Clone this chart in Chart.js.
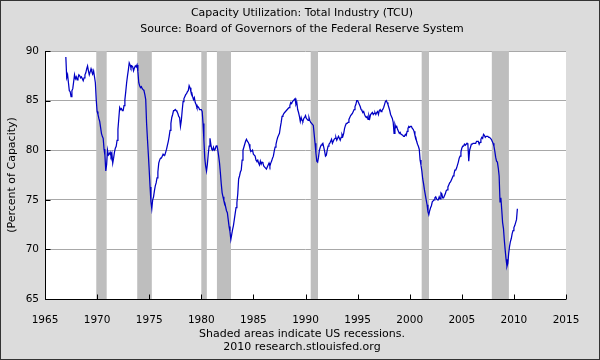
<!DOCTYPE html>
<html>
<head>
<meta charset="utf-8">
<script src="https://cdn.jsdelivr.net/npm/chart.js@4.4.1/dist/chart.umd.min.js"></script>
<style>
html,body{margin:0;padding:0;background:#dcdcdc;}
#wrap{width:600px;height:360px;}
canvas{display:block;}
</style>
</head>
<body>
<div id="wrap"><canvas id="c" width="600" height="360"></canvas></div>
<script>
// ---- Data (monthly, Jan 1967 onward) ----
const startYear = 1967;
const tcu1960s = [
  89.4, 87.3, 87.6, 86.8, 86.0, 85.9, 85.4, 86.0, 86.2, 86.9, 87.6, 87.2,
  87.4, 87.1, 87.3, 87.6, 87.5, 87.3, 87.4, 87.2, 87.0, 87.3, 87.6, 87.8,
  88.2, 88.5, 88.0, 87.6, 87.9, 88.2, 87.9, 87.7, 88.0, 87.4, 86.8, 85.1
];
const tcu1970s = [
  83.9, 83.6, 83.2, 82.9, 82.3, 81.7, 81.4, 81.2, 80.1, 79.5, 77.9, 78.6,
  80.0, 79.5, 79.6, 79.8, 79.4, 79.7, 78.7, 79.2, 79.8, 80.2, 80.4, 81.0,
  82.1, 83.2, 84.3, 84.1, 84.2, 84.0, 84.0, 84.5, 85.1, 85.9, 86.8, 87.5,
  88.1, 88.8, 88.6, 88.3, 88.5, 88.4, 88.0, 88.3, 88.5, 88.4, 88.6, 87.9,
  86.8, 86.5, 86.3, 86.4, 86.2, 86.1, 86.0, 85.6, 85.1, 82.7, 81.1, 79.6,
  78.0, 76.3, 74.8, 74.1, 75.0, 75.3, 75.9, 76.4, 76.7, 77.2, 77.8, 78.7,
  79.0, 79.2, 79.2, 79.4, 79.6, 79.5, 79.5, 79.8, 80.1, 80.5, 80.9, 81.4,
  82.0, 82.7, 83.3, 83.6, 84.0, 84.0, 84.1, 84.0, 83.9, 83.7, 83.4, 83.3,
  82.4, 83.0, 84.0, 84.9, 85.2, 85.4, 85.6, 85.7, 85.9, 86.0, 86.5, 86.3,
  85.9, 85.8, 85.4, 85.1, 85.3, 84.8, 84.6, 84.3, 84.4, 84.3, 84.1, 84.1
];
const tcu1980s = [
  84.1, 83.9, 82.7, 81.0, 79.2, 78.4, 77.9, 78.6, 79.6, 80.4, 81.2, 80.6,
  80.1, 80.0, 80.3, 80.0, 80.1, 80.4, 80.5, 80.0, 79.4, 78.7, 77.7, 76.6,
  75.7, 75.3, 74.9, 74.7, 74.3, 73.9, 73.7, 73.0, 72.3, 71.8, 71.0, 71.5,
  72.0, 72.4, 73.0, 73.6, 74.2, 74.7, 75.6, 77.1, 77.4, 77.8, 78.0, 79.0,
  80.0, 80.3, 80.6, 80.9, 81.1, 80.9, 80.8, 80.6, 80.2, 79.9, 79.9, 80.0,
  79.6, 79.5, 79.4, 79.0, 78.9, 79.0, 78.7, 78.5, 78.9, 78.6, 78.8, 78.7,
  78.4, 78.3, 78.2, 78.1, 78.3, 78.5, 78.7, 78.4, 78.7, 78.9, 79.2, 79.4,
  79.9, 80.3, 80.6, 81.0, 81.3, 81.5, 81.7, 82.3, 82.8, 83.4, 83.5, 83.7,
  83.8, 83.9, 84.0, 84.1, 84.2, 84.3, 84.5, 84.8, 84.7, 84.9, 85.0, 85.1,
  85.2, 84.6, 84.8, 84.1, 83.8, 83.4, 82.9, 83.3, 83.0, 82.9, 83.2, 83.3
];
const tcu1990s = [
  83.5, 83.2, 83.1, 83.0, 83.3, 83.0, 82.8, 82.7, 82.6, 82.5, 81.6, 80.7,
  79.7, 78.9, 78.8, 79.3, 80.0, 80.3, 80.5, 80.6, 80.7, 80.3, 79.9, 79.4,
  79.5, 80.0, 80.4, 80.6, 80.7, 80.9, 81.1, 80.7, 80.9, 81.1, 81.2, 81.3,
  81.0, 81.2, 81.4, 81.2, 81.0, 81.3, 81.6, 81.4, 81.7, 82.2, 82.5, 82.7,
  82.7, 82.8, 83.1, 83.3, 83.5, 83.6, 83.7, 83.9, 84.1, 84.4, 84.6, 85.0,
  85.0, 84.8, 84.6, 84.4, 84.1, 84.0, 83.8, 83.9, 83.6, 83.4, 83.3, 83.4,
  83.1, 83.5, 83.2, 83.6, 83.7, 83.8, 83.6, 83.7, 83.8, 83.6, 83.8, 83.9,
  83.6, 84.0, 84.1, 83.9, 84.0, 84.1, 84.3, 84.6, 84.9, 85.0, 84.8, 84.6,
  84.3, 84.0, 83.6, 83.4, 83.2, 82.8, 81.7, 82.6, 82.3, 82.4, 82.1, 81.9,
  81.7, 81.8, 81.6, 81.6, 81.5, 81.4, 81.4, 81.6, 81.5, 81.9, 82.2, 82.4
];
const tcu2000s = [
  82.3, 82.4, 82.4, 82.2, 82.1, 81.9, 81.5, 81.3, 80.9, 80.6, 80.4, 80.1,
  79.0, 78.5, 77.9, 77.1, 76.6, 76.0, 75.5, 75.0, 74.5, 73.8, 73.5, 73.9,
  74.2, 74.4, 74.8, 74.9, 75.0, 75.2, 75.3, 75.1, 75.0, 75.0, 75.3, 75.1,
  75.7, 75.6, 75.2, 75.2, 75.4, 75.6, 75.9, 76.0, 76.3, 76.5, 76.7, 76.8,
  77.0, 77.2, 77.4, 77.6, 78.0, 78.0, 78.2, 78.5, 78.8, 79.2, 79.4, 79.8,
  80.2, 80.4, 80.4, 80.6, 80.5, 80.6, 80.7, 80.6, 78.9, 80.0, 80.3, 80.6,
  80.6, 80.7, 80.7, 80.7, 80.7, 80.9, 80.9, 80.9, 80.6, 80.8, 81.1, 81.3,
  81.2, 81.6, 81.5, 81.3, 81.4, 81.4, 81.4, 81.3, 81.3, 81.2, 81.1, 80.9,
  80.7, 80.4, 79.9, 79.3, 78.9, 78.8, 78.2, 77.4, 74.8, 75.2, 74.0, 72.7,
  72.1, 70.9, 69.9, 69.0, 68.3, 68.6, 69.6, 70.3, 70.8, 71.1, 71.6, 71.9
];
const tcu2010s = [72.2, 72.4, 72.7, 73.0, 74.1];

// Recession periods (decimal years)
const recStart = [1969.92, 1973.85, 1980.0, 1981.5, 1990.5, 2001.15, 2007.88];
const recEnd   = [1970.92, 1975.25, 1980.53, 1982.85, 1991.2, 2001.85, 2009.52];

// Axis ticks
const xTicks = [1965, 1970, 1975, 1980, 1985, 1990, 1995, 2000, 2005, 2010, 2015];
const yTicks = [65, 70, 75, 80, 85, 90];

const titleLines = ['Capacity Utilization: Total Industry (TCU)', 'Source: Board of Governors of the Federal Reserve System'];
const footerLines = ['Shaded areas indicate US recessions.', '2010 research.stlouisfed.org'];
const yTitle = '(Percent of Capacity)';

// ---- Build ----
const tcu = [].concat(tcu1960s, tcu1970s, tcu1980s, tcu1990s, tcu2000s, tcu2010s);
const points = tcu.map((v, i) => ({ x: startYear + i / 12, y: v }));

const FONT = '"DejaVu Sans", Verdana, sans-serif';

const decor = {
  id: 'decor',
  beforeDraw(chart) {
    const { ctx, chartArea: a } = chart;
    ctx.save();
    ctx.fillStyle = '#dcdcdc';
    ctx.fillRect(0, 0, chart.width, chart.height);
    ctx.fillStyle = '#ffffff';
    ctx.fillRect(a.left, a.top, a.right - a.left, a.bottom - a.top);
    ctx.restore();
  },
  beforeDatasetsDraw(chart) {
    const { ctx, chartArea: a, scales: { x } } = chart;
    ctx.save();
    ctx.fillStyle = '#bebebe';
    recStart.forEach((s, i) => {
      const x0 = x.getPixelForValue(s), x1 = x.getPixelForValue(recEnd[i]);
      ctx.fillRect(x0, a.top, x1 - x0, a.bottom - a.top);
    });
    ctx.restore();
  },
  afterDatasetsDraw(chart) {
    const { ctx, chartArea: a, scales: { x, y } } = chart;
    ctx.save();
    ctx.strokeStyle = '#000';
    ctx.lineWidth = 1;
    ctx.beginPath();
    const L = Math.round(a.left) + 0.5, B = Math.round(a.bottom) + 0.5;
    ctx.moveTo(L, Math.round(a.top));
    ctx.lineTo(L, B);
    ctx.lineTo(Math.round(a.right), B);
    xTicks.forEach(t => {
      const px = Math.round(x.getPixelForValue(t)) + 0.5;
      ctx.moveTo(px, B); ctx.lineTo(px, B - 5);
    });
    yTicks.forEach(t => {
      const py = Math.round(y.getPixelForValue(t)) + 0.5;
      ctx.moveTo(L, py); ctx.lineTo(L + 5, py);
    });
    ctx.stroke();
    ctx.restore();
  },
  afterDraw(chart) {
    const { ctx } = chart;
    ctx.save();
    ctx.fillStyle = '#000';
    ctx.font = '11px ' + FONT;
    ctx.textAlign = 'center';
    ctx.textBaseline = 'middle';
    ctx.fillText(titleLines[0], 302, 13);
    ctx.fillText(titleLines[1], 302, 29);
    ctx.fillText(footerLines[0], 302, 334);
    ctx.fillText(footerLines[1], 302, 347);
    ctx.translate(12.5, 175);
    ctx.rotate(-Math.PI / 2);
    ctx.fillText(yTitle, 0, 0);
    ctx.restore();
    ctx.save();
    ctx.strokeStyle = '#333';
    ctx.lineWidth = 1;
    ctx.strokeRect(0.5, 0.5, chart.width - 1, chart.height - 1);
    ctx.restore();
  }
};

new Chart(document.getElementById('c'), {
  type: 'line',
  data: {
    datasets: [{
      data: points,
      borderColor: '#0000c4',
      borderWidth: 1.25,
      pointRadius: 0,
      tension: 0,
      fill: false
    }]
  },
  options: {
    responsive: false,
    animation: false,
    devicePixelRatio: 1,
    layout: { padding: { left: 0, right: 34, top: 51, bottom: 0 } },
    plugins: { legend: { display: false }, tooltip: { enabled: false }, title: { display: false } },
    scales: {
      x: {
        type: 'linear',
        min: 1965, max: 2015,
        afterBuildTicks(s) { s.ticks = xTicks.map(v => ({ value: v })); },
        ticks: { color: '#000', font: { family: FONT, size: 10.5 }, padding: 7, maxRotation: 0, autoSkip: false, callback: v => String(v) },
        grid: { display: false },
        border: { display: false },
        afterFit(s) { s.height = 61; }
      },
      y: {
        min: 65, max: 90,
        afterBuildTicks(s) { s.ticks = yTicks.map(v => ({ value: v })); },
        ticks: { color: '#000', font: { family: FONT, size: 10.5 }, padding: 6, callback: v => String(v) },
        grid: { color: '#a8a8a8', drawTicks: false, lineWidth: 1 },
        border: { display: false },
        afterFit(s) { s.width = 45; }
      }
    }
  },
  plugins: [decor]
});
</script>
</body>
</html>
